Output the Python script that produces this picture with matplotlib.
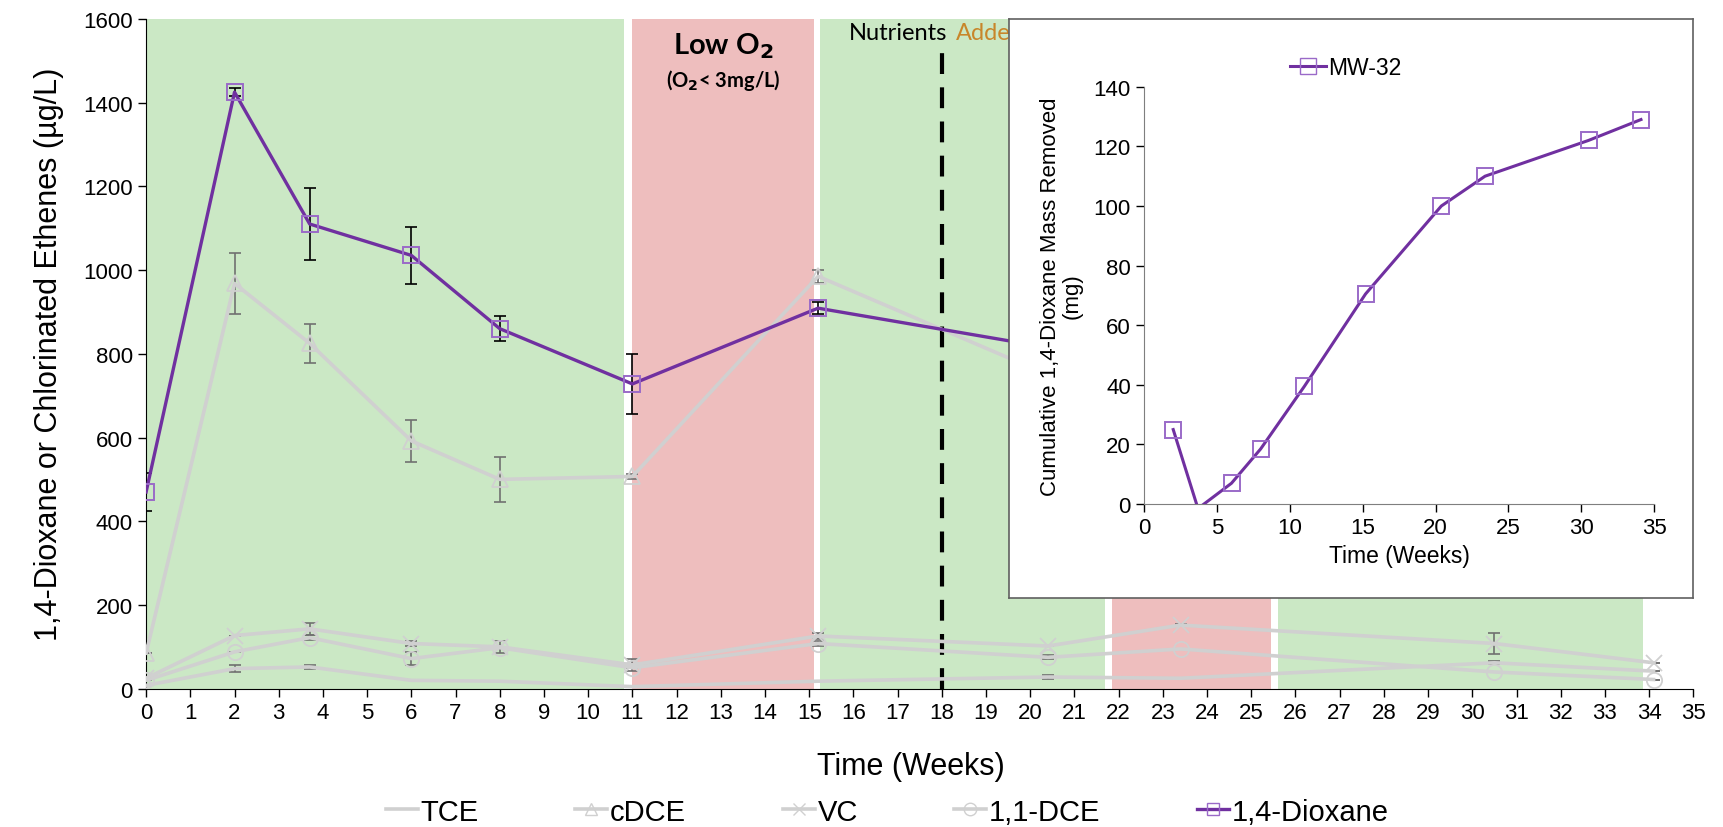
import numpy as np
import matplotlib.pyplot as plt
from matplotlib.lines import Line2D

plt.rcParams['font.family'] = ['Liberation Sans', 'DejaVu Sans']

# sampling times (weeks) and concentrations (ug/L) in MW-32
weeks = [0, 2, 3.7, 6, 8, 11, 15.2, 20.4, 23.4, 30.5, 34.1]
tce = [8, 48, 52, 20, 18, 5, 18, 28, 25, 62, 42]
tce_err = [0, 8, 4, 0, 0, 0, 0, 4, 0, 4, 0]
cdce = [85, 968, 825, 592, 500, 507, 985, 750, 640, 460, 380]
cdce_err = [0, 73, 47, 50, 53, 5, 15, 0, 0, 0, 0]
vc = [25, 127, 143, 108, 100, 57, 126, 102, 152, 108, 62]
vc_err = [0, 0, 15, 5, 15, 15, 8, 0, 3, 25, 0]
dce11 = [20, 88, 122, 72, 98, 50, 108, 75, 95, 40, 22]
dce11_err = [0, 0, 6, 15, 0, 0, 5, 5, 0, 0, 0]
dioxane = [470, 1425, 1110, 1035, 860, 728, 909, 815, 700, 560, 480]
dioxane_err = [45, 10, 85, 68, 30, 72, 15, 30, 30, 30, 30]

# treatment phases (start, end, kind)
phases = [(0, 10.8, 'oxic'), (11.0, 15.1, 'low'), (15.25, 21.7, 'oxic'),
          (21.85, 25.45, 'low'), (25.6, 33.85, 'oxic')]
nutrient_week = 18

# inset: cumulative dioxane mass removed (mg)
inset_weeks = [2, 3.7, 6, 8, 11, 15.2, 20.4, 23.4, 30.5, 34.1]
inset_mass = [25, -1.5, 7, 18.5, 39.5, 70.5, 100, 110, 122, 129]

GREEN = '#CBE8C5'
RED = '#EEBEBE'
GRAY = '#D0D0D0'
ERRGRAY = '#707070'
PURPLE = '#7030A0'
PURPLE_MK = '#9A6AC8'

fig = plt.figure(figsize=(17.23, 8.28), dpi=100)
ax = fig.add_axes([0.0848, 0.167, 0.898, 0.809])

for x0, x1, kind in phases:
    ax.axvspan(x0, x1, ymin=0, ymax=1, color=GREEN if kind == 'oxic' else RED, lw=0, zorder=0)

ax.plot([nutrient_week, nutrient_week], [0, 1530], color='black', lw=3,
        dashes=(5, 3.2), zorder=1)
ax.text(nutrient_week + 0.12, 1568, 'Nutrients', ha='right', va='center',
        fontsize=17, family='Lato', color='black')
ax.text(nutrient_week + 0.32, 1568, 'Added', ha='left', va='center',
        fontsize=17, family='Lato', color='#C8862A')
ax.text(13.05, 1538, r'Low O$_\mathbf{2}$', ha='center', va='center', fontsize=21,
        fontweight='bold', family='Lato')
ax.text(13.05, 1455, r'(O$_\mathbf{2}$< 3mg/L)', ha='center', va='center', fontsize=14.5,
        fontweight='bold', family='Lato')

series = [
    ('TCE', tce, tce_err, 'None'),
    ('cDCE', cdce, cdce_err, '^'),
    ('VC', vc, vc_err, 'x'),
    ('1,1-DCE', dce11, dce11_err, 'o'),
]
handles = []
for name, vals, err, mk in series:
    ax.errorbar(weeks, vals, yerr=err, fmt='none', ecolor=ERRGRAY, elinewidth=1.2,
                capsize=4, capthick=1.2, zorder=2)
    ax.plot(weeks, vals, color=GRAY, lw=2.6, marker=mk, ms=11, mfc='none',
            mec=GRAY, mew=1.3, zorder=3)
    handles.append(Line2D([], [], color=GRAY, lw=2.6, marker=mk, ms=9, mfc='none',
                          mec=GRAY, label=name))

ax.errorbar(weeks, dioxane, yerr=dioxane_err, fmt='none', ecolor='black', elinewidth=1.2,
            capsize=4, capthick=1.2, zorder=4)
ax.plot(weeks, dioxane, color=PURPLE, lw=2.4, marker='s', ms=11, mfc='none',
        mec=PURPLE_MK, mew=1.4, zorder=5)
handles.append(Line2D([], [], color=PURPLE, lw=2.4, marker='s', ms=9, mfc='none',
                      mec=PURPLE_MK, label='1,4-Dioxane'))

ax.set_xlim(0, 35)
ax.set_ylim(0, 1600)
ax.set_xticks(np.arange(0, 36, 1))
ax.set_yticks(np.arange(0, 1601, 200))
ax.tick_params(direction='out', labelsize=16, length=6, width=1)
ax.spines['top'].set_visible(False)
ax.spines['right'].set_visible(False)
ax.set_xlabel('Time (Weeks)', fontsize=22)
ax.xaxis.set_label_coords(0.494, -0.093)
ax.set_ylabel('1,4-Dioxane or Chlorinated Ethenes (µg/L)', fontsize=22, labelpad=14)
ax.set_facecolor('white')

fig.legend(handles=handles, loc='lower center', bbox_to_anchor=(0.515, -0.03), ncol=5,
           frameon=False, fontsize=21, handlelength=1.1, handletextpad=0.1,
           columnspacing=3.3)

# inset box
box = fig.add_axes([0.5855, 0.277, 0.397, 0.699])
box.set_xticks([])
box.set_yticks([])
box.set_facecolor('white')
for s in box.spines.values():
    s.set_color('#606060')
    s.set_linewidth(1.2)

ins = fig.add_axes([0.664, 0.390, 0.296, 0.504])
ins.patch.set_alpha(0)
ins.plot(inset_weeks, inset_mass, color=PURPLE, lw=2.2, zorder=3)
mk_idx = [i for i, v in enumerate(inset_mass) if v >= 0]
ins.plot(inset_weeks, inset_mass, ls='none', marker='s', ms=12, mfc='none',
         mec=PURPLE_MK, mew=1.4, markevery=mk_idx, zorder=4)
ins.set_xlim(0, 35)
ins.set_ylim(0, 140)
ins.set_xticks(np.arange(0, 36, 5))
ins.set_yticks(np.arange(0, 141, 20))
ins.tick_params(direction='out', labelsize=16, length=6, width=1, colors='black')
for s in ['left', 'bottom']:
    ins.spines[s].set_color('#7F7F7F')
for s in ['top', 'right']:
    ins.spines[s].set_visible(False)
ins.set_xlabel('Time (Weeks)', fontsize=16.5)
ins.set_ylabel('Cumulative 1,4-Dioxane Mass Removed\n(mg)', fontsize=16,
               labelpad=8, linespacing=1.05)
ins.legend(handles=[Line2D([], [], color=PURPLE, lw=2.2, marker='s', ms=12, mfc='none',
                           mec=PURPLE_MK, label='MW-32')],
           loc='lower left', bbox_to_anchor=(0.245, 0.97), frameon=False,
           fontsize=16.5, handlelength=1.6, handletextpad=0.1)

fig.savefig('out.png', dpi=100)
